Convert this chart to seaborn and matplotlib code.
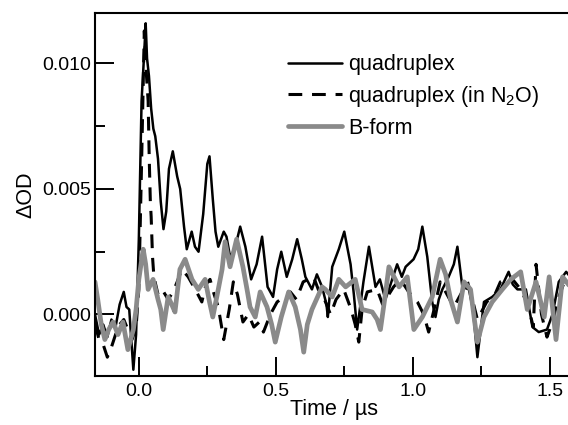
import numpy as np
import pandas as pd
import seaborn as sns
import matplotlib
matplotlib.use("Agg")
import matplotlib.pyplot as plt
from matplotlib.ticker import MultipleLocator

sns.set_style("ticks")
plt.rcParams['font.family'] = ['Liberation Sans', 'DejaVu Sans']
plt.rcParams['mathtext.default'] = 'regular'
plt.rcParams['text.color'] = 'black'
plt.rcParams['axes.labelcolor'] = 'black'
plt.rcParams['xtick.color'] = 'black'
plt.rcParams['ytick.color'] = 'black'

# ---- data ----
quad_t = [-0.16, -0.145, -0.13, -0.115, -0.10, -0.085, -0.07, -0.055, -0.045, -0.035,
          -0.02, -0.01, 0.0, 0.01, 0.02, 0.025, 0.03, 0.037, 0.045, 0.053,
          0.06, 0.07, 0.08, 0.09, 0.10, 0.11, 0.124, 0.14, 0.151, 0.165,
          0.175, 0.193, 0.205, 0.218, 0.235, 0.25, 0.258, 0.27, 0.28, 0.29,
          0.31, 0.32, 0.333, 0.35, 0.37, 0.389, 0.41, 0.43, 0.45, 0.47,
          0.49, 0.505, 0.52, 0.54, 0.56, 0.578, 0.595, 0.608, 0.632, 0.65,
          0.669, 0.685, 0.69, 0.706, 0.73, 0.75, 0.773, 0.785, 0.797, 0.82,
          0.84, 0.864, 0.88, 0.90, 0.913, 0.943, 0.96, 0.974, 1.003, 1.02,
          1.035, 1.053, 1.071, 1.083, 1.095, 1.108, 1.131, 1.15, 1.163, 1.181,
          1.205, 1.22, 1.236, 1.26, 1.29, 1.32, 1.35, 1.365, 1.382, 1.413,
          1.437, 1.46, 1.49, 1.51, 1.533, 1.56, 1.575]
quad_v = [0.0000, -0.0008, -0.0004, -0.0009, -0.0002, -0.0005, 0.0004, 0.0009, 0.0003, 0.0002,
          -0.0022, -0.0008, 0.0030, 0.0085, 0.0105, 0.0116, 0.0102, 0.0095, 0.0082, 0.0074,
          0.0071, 0.0062, 0.0045, 0.0034, 0.0041, 0.0058, 0.0065, 0.0055, 0.0050, 0.0035,
          0.0026, 0.0033, 0.0027, 0.0025, 0.0040, 0.0060, 0.0063, 0.0046, 0.0033, 0.0027,
          0.0033, 0.0031, 0.0023, 0.0026, 0.0035, 0.0027, 0.0014, 0.0020, 0.0031, 0.0011,
          0.0007, 0.0018, 0.0025, 0.0015, 0.0022, 0.0030, 0.0022, 0.0015, 0.0010, 0.0016,
          0.0011, 0.0004, -0.0001, 0.0019, 0.0026, 0.0033, 0.0020, 0.0008, -0.0006, 0.0013,
          0.0027, 0.0011, 0.0014, 0.0006, 0.0010, 0.0020, 0.0015, 0.0019, 0.0022, 0.0026,
          0.0035, 0.0023, 0.0005, -0.0001, 0.0006, 0.0010, 0.0015, 0.0020, 0.0027, 0.0011,
          0.0010, 0.0002, -0.0017, 0.0005, 0.0007, 0.0010, 0.0017, 0.0012, 0.0010, 0.0010,
          -0.0005, -0.0007, -0.0006, 0.0000, 0.0013, 0.0017, 0.0015]

n2o_t = [-0.16, -0.145, -0.13, -0.115, -0.10, -0.085, -0.07, -0.055, -0.04, -0.025,
         -0.01, 0.0, 0.01, 0.02, 0.028, 0.034, 0.038, 0.042, 0.045, 0.05,
         0.055, 0.07, 0.085, 0.107, 0.125, 0.14, 0.157, 0.18, 0.206, 0.23,
         0.245, 0.26, 0.275, 0.29, 0.31, 0.33, 0.345, 0.36, 0.38, 0.40,
         0.42, 0.44, 0.455, 0.48, 0.505, 0.53, 0.553, 0.575, 0.60, 0.638,
         0.655, 0.674, 0.70, 0.72, 0.748, 0.775, 0.79, 0.803, 0.815, 0.834,
         0.87, 0.89, 0.907, 0.93, 0.955, 0.985, 1.017, 1.04, 1.058, 1.08,
         1.10, 1.125, 1.15, 1.175, 1.20, 1.22, 1.236, 1.27, 1.30, 1.32,
         1.357, 1.394, 1.42, 1.44, 1.45, 1.47, 1.49, 1.51, 1.53, 1.55, 1.575]
n2o_v = [-0.0004, -0.0010, -0.0012, -0.0017, -0.0013, -0.0008, -0.0004, -0.0002, -0.0006, -0.0010,
         -0.0005, 0.0010, 0.0060, 0.0113, 0.0095, 0.0085, 0.0062, 0.0045, 0.0039, 0.0023,
         0.0015, 0.0008, 0.0010, 0.0006, 0.0009, 0.0013, 0.0018, 0.0015, 0.0010, 0.0005,
         0.0012, 0.0014, 0.0008, 0.0003, -0.0010, 0.0002, 0.0013, 0.0008, -0.0003, 0.0000,
         -0.0005, -0.0003, -0.0007, 0.0000, 0.0005, 0.0007, 0.0009, 0.0006, 0.0013, 0.0015,
         0.0010, 0.0007, 0.0000, 0.0006, 0.0010, 0.0002, -0.0004, -0.0011, 0.0002, 0.0009,
         0.0010, 0.0004, 0.0007, 0.0011, 0.0014, 0.0009, 0.0005, 0.0000, -0.0007, 0.0003,
         0.0013, 0.0008, 0.0003, 0.0008, 0.0013, 0.0005, -0.0002, 0.0005, 0.0008, 0.0013,
         0.0015, 0.0010, 0.0004, -0.0005, 0.0020, 0.0000, -0.0009, -0.0003, 0.0006, 0.0012, 0.0010]

bform_t = [-0.16, -0.15, -0.137, -0.124, -0.11, -0.094, -0.076, -0.058, -0.04, -0.02,
           -0.01, 0.0, 0.016, 0.025, 0.034, 0.052, 0.07, 0.08, 0.089, 0.107,
           0.12, 0.132, 0.15, 0.169, 0.194, 0.217, 0.242, 0.258, 0.27, 0.29,
           0.304, 0.315, 0.333, 0.357, 0.38, 0.395, 0.406, 0.425, 0.443, 0.468,
           0.485, 0.498, 0.52, 0.547, 0.571, 0.59, 0.602, 0.615, 0.632, 0.669,
           0.681, 0.706, 0.73, 0.755, 0.79, 0.815, 0.852, 0.87, 0.882, 0.90,
           0.913, 0.95, 0.98, 0.995, 1.004, 1.035, 1.071, 1.10, 1.12, 1.138,
           1.163, 1.187, 1.211, 1.225, 1.236, 1.26, 1.29, 1.327, 1.358, 1.394,
           1.418, 1.45, 1.48, 1.498, 1.523, 1.547, 1.575]
bform_v = [0.0013, 0.0006, -0.0004, -0.0010, -0.0006, -0.0003, -0.0008, -0.0003, -0.0014, -0.0006,
           0.0002, 0.0014, 0.0026, 0.0020, 0.0010, 0.0014, 0.0006, 0.0002, -0.0006, 0.0007,
           0.0004, 0.0001, 0.0018, 0.0022, 0.0014, 0.0010, 0.0014, 0.0005, -0.0001, 0.0010,
           0.0018, 0.0029, 0.0019, 0.0030, 0.0019, 0.0010, 0.0003, -0.0001, 0.0009, 0.0003,
           -0.0004, -0.0011, -0.0001, 0.0009, 0.0003, -0.0006, -0.0015, -0.0004, 0.0002, 0.0011,
           0.0010, 0.0007, 0.0014, 0.0011, 0.0014, 0.0002, 0.0001, -0.0002, -0.0006, 0.0008,
           0.0019, 0.0011, 0.0015, 0.0002, -0.0006, -0.0001, 0.0007, 0.0022, 0.0016, 0.0006,
           -0.0003, 0.0013, 0.0010, -0.0002, -0.0011, -0.0001, 0.0005, 0.0010, 0.0014, 0.0017,
           0.0002, 0.0013, -0.0001, 0.0015, -0.0010, 0.0015, 0.0011]

labels = ["quadruplex", "quadruplex (in N$_2$O)", "B-form"]
x_ticks = [0.0, 0.5, 1.0, 1.5]
x_ticklabels = ["0.0", "0.5", "1.0", "1.5"]
y_ticks = [0.000, 0.005, 0.010]
y_ticklabels = ["0.000", "0.005", "0.010"]

fig = plt.figure(figsize=(5.68, 4.25), dpi=100)
ax = fig.add_axes([95/568, 49/425, 478/568, 363/425])

sns.lineplot(x=quad_t, y=quad_v, ax=ax, color="black", lw=1.8, label=labels[0],
             estimator=None)
sns.lineplot(x=n2o_t, y=n2o_v, ax=ax, color="black", lw=2.2, label=labels[1],
             estimator=None, linestyle=(0, (4.5, 3.2)))
sns.lineplot(x=bform_t, y=bform_v, ax=ax, color="#8a8a8a", lw=3.4, label=labels[2],
             estimator=None)

ax.set_xlim(-0.16, 1.585)
ax.set_ylim(-0.00245, 0.01201)
ax.set_xticks(x_ticks)
ax.set_xticklabels(x_ticklabels)
ax.set_yticks(y_ticks)
ax.set_yticklabels(y_ticklabels)
ax.xaxis.set_minor_locator(MultipleLocator(0.25))
ax.yaxis.set_minor_locator(MultipleLocator(0.0025))
ax.tick_params(which="major", direction="in", length=14, width=1.4, labelsize=14)
ax.tick_params(axis="x", which="major", pad=5)
ax.tick_params(axis="y", which="major", pad=3)
ax.tick_params(which="minor", direction="in", length=7, width=1.4)
ax.tick_params(top=False, right=False, which="both")
for s in ax.spines.values():
    s.set_linewidth(1.5)
    s.set_color("black")
    s.set_visible(True)

ax.set_xlabel("Time / \u00b5s", fontsize=15.5, labelpad=-1)
ax.set_ylabel("\u0394OD", fontsize=15.5, labelpad=4)

leg = ax.legend(loc="upper left", bbox_to_anchor=(0.386, 0.91), frameon=False,
                fontsize=15.5, handlelength=2.5, handletextpad=0.3, labelspacing=0.4,
                borderaxespad=0)

fig.savefig("out.png", dpi=100)
